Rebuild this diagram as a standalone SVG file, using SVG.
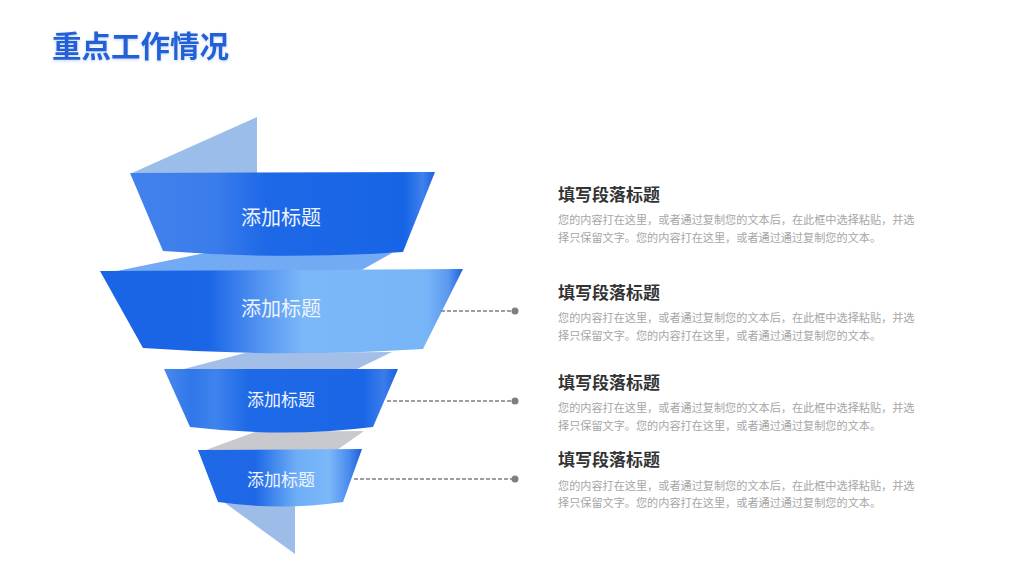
<svg xmlns="http://www.w3.org/2000/svg" width="1024" height="576" viewBox="0 0 1024 576">
  <defs>
    <linearGradient id="g1" x1="130" y1="0" x2="435" y2="0" gradientUnits="userSpaceOnUse">
      <stop offset="0" stop-color="#4282EC"/>
      <stop offset="0.28" stop-color="#3A7CEB"/>
      <stop offset="0.45" stop-color="#1D68E7"/>
      <stop offset="0.9" stop-color="#1765E6"/>
      <stop offset="0.96" stop-color="#3F81ED"/>
      <stop offset="1" stop-color="#1B60E0"/>
    </linearGradient>
    <linearGradient id="g2" x1="100" y1="0" x2="463" y2="0" gradientUnits="userSpaceOnUse">
      <stop offset="0" stop-color="#1A64E6"/>
      <stop offset="0.3" stop-color="#1A66E7"/>
      <stop offset="0.45" stop-color="#5796F2"/>
      <stop offset="0.56" stop-color="#7BB8F8"/>
      <stop offset="0.9" stop-color="#78B5F7"/>
      <stop offset="0.96" stop-color="#5A98F0"/>
      <stop offset="1" stop-color="#1A60E0"/>
    </linearGradient>
    <linearGradient id="g3" x1="164" y1="0" x2="398" y2="0" gradientUnits="userSpaceOnUse">
      <stop offset="0" stop-color="#4A88ED"/>
      <stop offset="0.12" stop-color="#3077EA"/>
      <stop offset="0.22" stop-color="#3F83ED"/>
      <stop offset="0.36" stop-color="#1E69E7"/>
      <stop offset="0.85" stop-color="#1A66E6"/>
      <stop offset="0.94" stop-color="#3A7CEB"/>
      <stop offset="1" stop-color="#1A5EDF"/>
    </linearGradient>
    <linearGradient id="g4" x1="198" y1="0" x2="362" y2="0" gradientUnits="userSpaceOnUse">
      <stop offset="0" stop-color="#1F69E7"/>
      <stop offset="0.35" stop-color="#1E68E7"/>
      <stop offset="0.6" stop-color="#6EAEF6"/>
      <stop offset="0.8" stop-color="#7BB8F8"/>
      <stop offset="0.92" stop-color="#4A8BEE"/>
      <stop offset="1" stop-color="#1A5EDF"/>
    </linearGradient>
    <filter id="ts" x="-10%" y="-30%" width="120%" height="160%">
      <feDropShadow dx="0" dy="1" stdDeviation="1.5" flood-color="#7FA8EA" flood-opacity="0.5"/>
    </filter>
  </defs>
  <style>
    .lbl { font-family: "Noto Sans CJK SC", "Noto Sans", sans-serif; fill: #EEF4FF; text-anchor: middle; }
    .ht { font-family: "Noto Sans CJK SC", "Noto Sans", sans-serif; font-size: 17px; font-weight: bold; fill: #333333; }
    .bt { font-family: "Noto Sans CJK SC", "Noto Sans", sans-serif; font-size: 11.15px; fill: #A6A6A6; }
    .dash { stroke: #7F7F7F; stroke-width: 1.3; stroke-dasharray: 4 2; fill: none; }
    .dot { fill: #7F7F7F; }
  </style>
  <rect width="1024" height="576" fill="#FFFFFF"/>

  <g id="title">
    <text x="52" y="57" filter="url(#ts)" font-family="Noto Sans CJK SC, Noto Sans, sans-serif" font-size="29.5" font-weight="bold" fill="#2160D6">重点工作情况</text>
  </g>

  <g id="ribbon-back">
    <path d="M132,173 L257,117 L257,173 Z" fill="#9BBDE9"/>
    <path d="M112,272 L205,253 L392,253 L360,271 Z" fill="#72AAF4"/>
    <path d="M180,370 L245,353 L392,352 L357,369 Z" fill="#A3BFE8"/>
    <path d="M203,451 L255,432 L364,431 L337,450 Z" fill="#C8C9CE"/>
    <path d="M225,503 L295,505 L295,554 Z" fill="#9DBDE8"/>
  </g>

  <g id="band1">
    <path d="M130,173 L435,172 L403,252 Q283,260 163,251 Z" fill="url(#g1)"/>
    <text class="lbl" x="281" y="225" font-size="20">添加标题</text>
  </g>
  <g id="band2">
    <path d="M100,271 L463,269 L423,349 Q283,358 143,348 Z" fill="url(#g2)"/>
    <text class="lbl" x="281" y="316" font-size="20">添加标题</text>
  </g>
  <g id="band3">
    <path d="M164,369 L398,369 L373,427 Q283,438 190,427 Z" fill="url(#g3)"/>
    <text class="lbl" x="281" y="406" font-size="17">添加标题</text>
  </g>
  <g id="band4">
    <path d="M198,450 L362,449 L343,502 Q280,511 218,502 Z" fill="url(#g4)"/>
    <text class="lbl" x="281" y="486" font-size="17">添加标题</text>
  </g>

  <g id="connectors">
    <line class="dash" x1="441" y1="311" x2="513" y2="311"/>
    <circle class="dot" cx="515" cy="311" r="3.5"/>
    <line class="dash" x1="387" y1="401" x2="513" y2="401"/>
    <circle class="dot" cx="515" cy="401" r="3.5"/>
    <line class="dash" x1="354" y1="479" x2="513" y2="479"/>
    <circle class="dot" cx="515" cy="479" r="3.5"/>
  </g>

  <g id="text1">
    <text class="ht" x="558" y="201">填写段落标题</text>
    <text class="bt" x="558" y="224">您的内容打在这里，或者通过复制您的文本后，在此框中选择粘贴，并选</text>
    <text class="bt" x="558" y="242">择只保留文字。您的内容打在这里，或者通过通过复制您的文本。</text>
  </g>
  <g id="text2">
    <text class="ht" x="558" y="299">填写段落标题</text>
    <text class="bt" x="558" y="322">您的内容打在这里，或者通过复制您的文本后，在此框中选择粘贴，并选</text>
    <text class="bt" x="558" y="340">择只保留文字。您的内容打在这里，或者通过通过复制您的文本。</text>
  </g>
  <g id="text3">
    <text class="ht" x="558" y="389">填写段落标题</text>
    <text class="bt" x="558" y="412">您的内容打在这里，或者通过复制您的文本后，在此框中选择粘贴，并选</text>
    <text class="bt" x="558" y="430">择只保留文字。您的内容打在这里，或者通过通过复制您的文本。</text>
  </g>
  <g id="text4">
    <text class="ht" x="558" y="466">填写段落标题</text>
    <text class="bt" x="558" y="490">您的内容打在这里，或者通过复制您的文本后，在此框中选择粘贴，并选</text>
    <text class="bt" x="558" y="507">择只保留文字。您的内容打在这里，或者通过通过复制您的文本。</text>
  </g>
</svg>
